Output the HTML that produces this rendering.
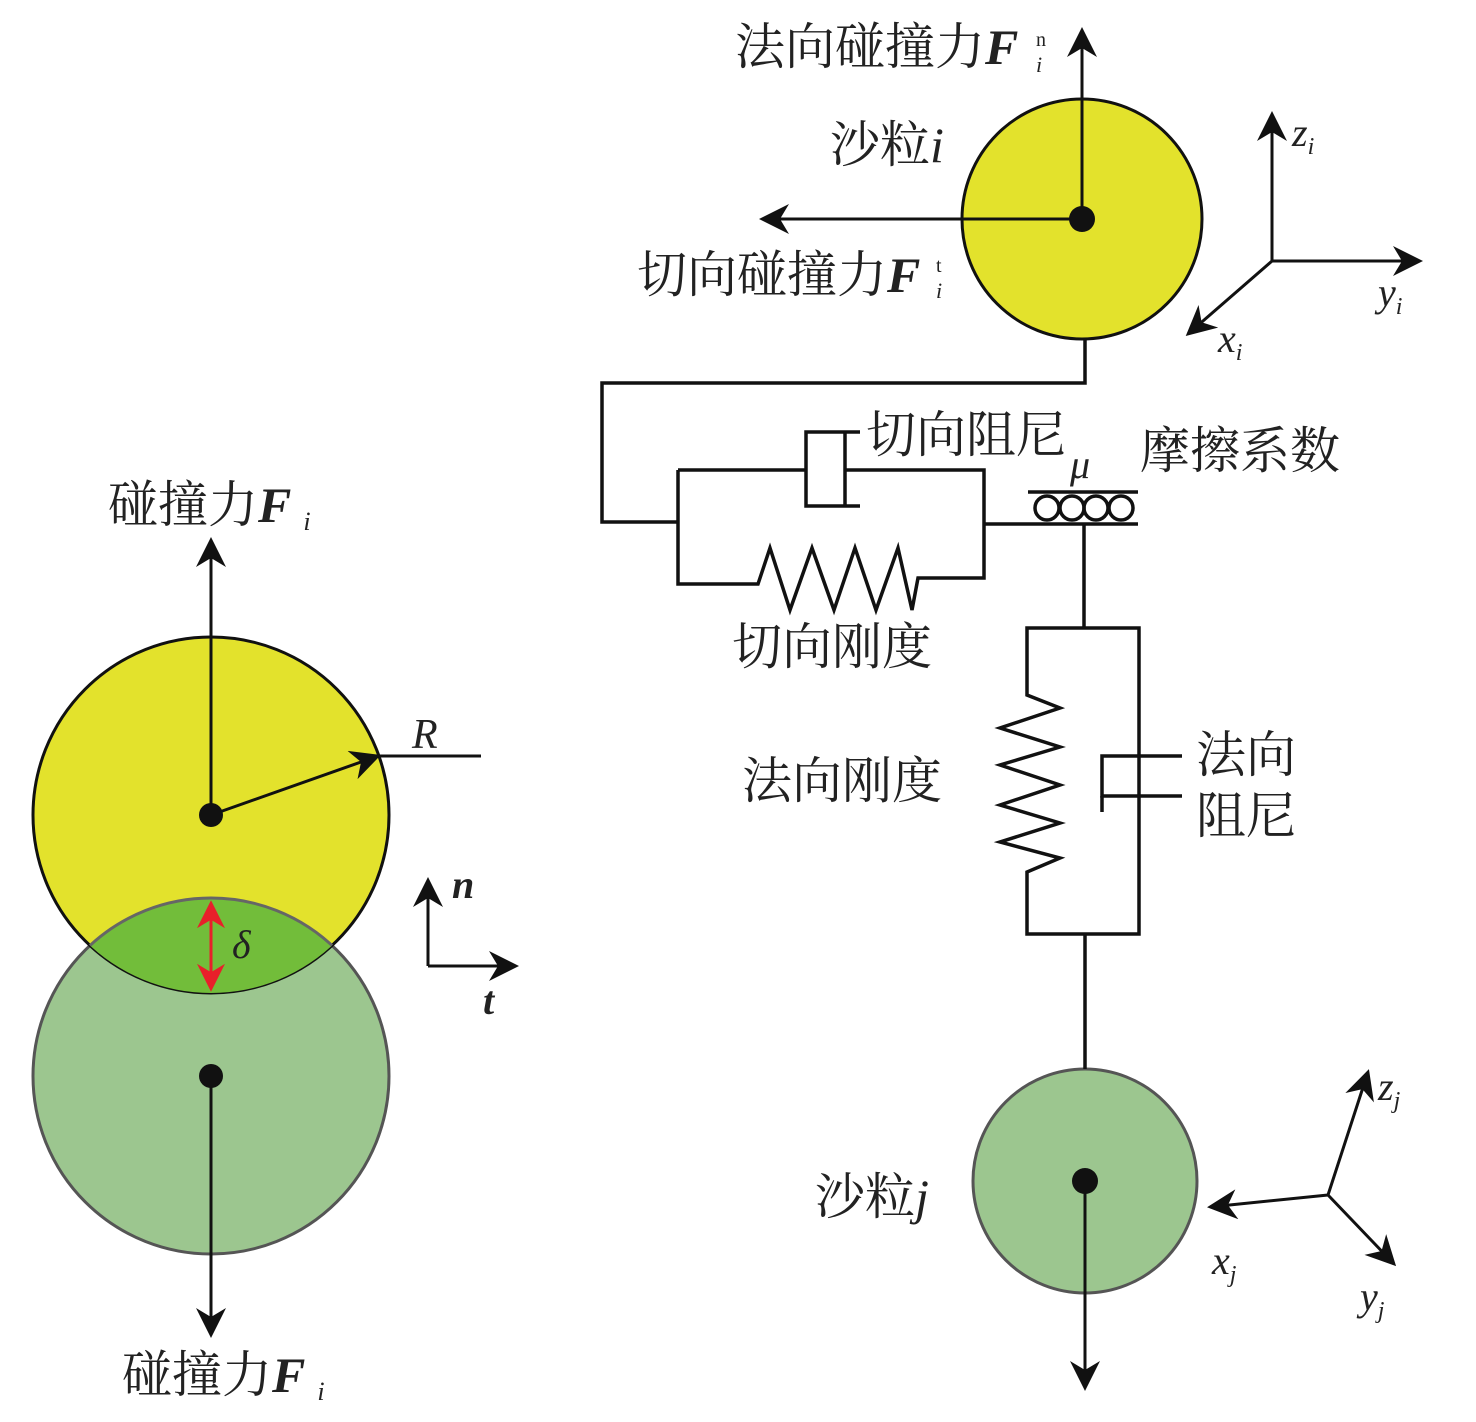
<!DOCTYPE html>
<html><head><meta charset="utf-8"><style>
html,body{margin:0;padding:0;background:#fff}
svg text{font-family:"Liberation Serif","Noto Serif CJK SC",serif;fill:#222}
.cn{font-size:50px}
.it{font-style:italic}
.b{font-weight:bold;font-style:italic}
</style></head><body>
<svg width="1476" height="1417" viewBox="0 0 1476 1417" xmlns="http://www.w3.org/2000/svg">
<defs>
<marker id="ab" viewBox="0 0 10 10" refX="9" refY="5" markerWidth="30" markerHeight="30" markerUnits="userSpaceOnUse" orient="auto"><path d="M0,0 L10,5 L0,10 L3,5z" fill="#111"/></marker>
<marker id="ar" viewBox="0 0 10 10" refX="9" refY="5" markerWidth="28" markerHeight="28" markerUnits="userSpaceOnUse" orient="auto-start-reverse"><path d="M0,0 L10,5 L0,10 L3,5z" fill="#e8202a"/></marker>
<clipPath id="cp"><circle cx="211" cy="815" r="178"/></clipPath>
</defs>
<g stroke="#111" stroke-width="3" fill="none">
<circle cx="211" cy="1076" r="178" fill="#9cc68f" stroke="#555"/>
<circle cx="211" cy="815" r="178" fill="#e3e22c" stroke="#111"/>
<circle cx="211" cy="1076" r="178" fill="#72bd3a" stroke="#666" clip-path="url(#cp)"/>
<line x1="211" y1="815" x2="211" y2="540" marker-end="url(#ab)"/>
<line x1="211" y1="1076" x2="211" y2="1335" marker-end="url(#ab)"/>
<line x1="211" y1="815" x2="378" y2="756" marker-end="url(#ab)"/>
<line x1="378" y1="756" x2="481" y2="756"/>
<line x1="211" y1="903" x2="211" y2="989" stroke="#e8202a" marker-end="url(#ar)" marker-start="url(#ar)"/>
<line x1="428" y1="966" x2="428" y2="880" marker-end="url(#ab)"/>
<line x1="428" y1="966" x2="516" y2="966" marker-end="url(#ab)"/>
</g>
<circle cx="211" cy="815" r="12" fill="#111"/>
<circle cx="211" cy="1076" r="12" fill="#111"/>
<g stroke="#111" stroke-width="3.5" fill="none">
<circle cx="1082" cy="219" r="120" fill="#e3e22c" stroke-width="3"/>
<circle cx="1085" cy="1181" r="112" fill="#9cc68f" stroke="#555" stroke-width="3"/>
<line x1="1082" y1="219" x2="1082" y2="30" marker-end="url(#ab)" stroke-width="3"/>
<line x1="1082" y1="219" x2="762" y2="219" marker-end="url(#ab)" stroke-width="3"/>
<line x1="1085" y1="1181" x2="1085" y2="1388" marker-end="url(#ab)" stroke-width="3"/>
<polyline points="1085,339 1085,383 602,383 602,522 678,522"/>
<polyline points="678,470 678,584 758,584 770,548 790,610 812,548 834,610 855,548 876,610 898,548 912,610 918,578 984,578 984,470 845,470"/>
<polyline points="678,470 806,470"/>
<polyline points="860,432 806,432 806,506 860,506"/>
<line x1="845" y1="432" x2="845" y2="506"/>
<line x1="984" y1="524" x2="1138" y2="524"/>
<line x1="1028" y1="492" x2="1138" y2="492"/>
<circle cx="1047" cy="508" r="12"/><circle cx="1072" cy="508" r="12"/><circle cx="1096" cy="508" r="12"/><circle cx="1121" cy="508" r="12"/>
<line x1="1084" y1="524" x2="1084" y2="628"/>
<polyline points="1084,628 1027,628 1027,695 1060,708 1000,728 1060,747 1000,765 1060,785 1000,805 1060,823 1000,842 1060,858 1027,872 1027,934 1084,934 1139,934 1139,628 1084,628"/>
<line x1="1085" y1="934" x2="1085" y2="1069"/>
<polyline points="1182,756 1102,756 1102,796 1182,796"/>
<line x1="1102" y1="796" x2="1102" y2="812"/>
</g>
<g stroke="#111" stroke-width="3" fill="none">
<line x1="1272" y1="261" x2="1272" y2="114" marker-end="url(#ab)"/>
<line x1="1272" y1="261" x2="1420" y2="261" marker-end="url(#ab)"/>
<line x1="1272" y1="261" x2="1188" y2="334" marker-end="url(#ab)"/>
<line x1="1328" y1="1195" x2="1368" y2="1072" marker-end="url(#ab)"/>
<line x1="1328" y1="1195" x2="1210" y2="1207" marker-end="url(#ab)"/>
<line x1="1328" y1="1195" x2="1394" y2="1264" marker-end="url(#ab)"/>
</g>
<circle cx="1082" cy="219" r="13" fill="#111"/>
<circle cx="1085" cy="1181" r="13" fill="#111"/>
<text x="108" y="522" class="cn">碰撞力<tspan class="b">F</tspan><tspan class="it" font-size="26" dx="12" dy="8">i</tspan></text>
<text x="122" y="1392" class="cn">碰撞力<tspan class="b">F</tspan><tspan class="it" font-size="26" dx="12" dy="8">i</tspan></text>
<text x="412" y="748" class="it" font-size="42">R</text>
<text x="232" y="958" class="it" font-size="40">δ</text>
<text x="452" y="898" class="b" font-size="40">n</text>
<text x="483" y="1014" class="b" font-size="40">t</text>
<text x="735" y="64" class="cn">法向碰撞力<tspan class="b">F</tspan></text>
<text x="1036" y="46" font-size="20">n</text><text x="1036" y="72" class="it" font-size="22">i</text>
<text x="830" y="162" class="cn">沙粒<tspan class="it">i</tspan></text>
<text x="637" y="292" class="cn">切向碰撞力<tspan class="b">F</tspan></text>
<text x="936" y="272" font-size="20">t</text><text x="936" y="298" class="it" font-size="22">i</text>
<text x="866" y="452" class="cn">切向阻尼</text>
<text x="1070" y="478" class="it" font-size="40">μ</text>
<text x="1140" y="468" class="cn">摩擦系数</text>
<text x="732" y="664" class="cn">切向刚度</text>
<text x="742" y="798" class="cn">法向刚度</text>
<text x="1196" y="772" class="cn">法向</text>
<text x="1196" y="833" class="cn">阻尼</text>
<text x="815" y="1214" class="cn">沙粒<tspan class="it">j</tspan></text>
<text x="1292" y="146" class="it" font-size="40">z<tspan font-size="24" dy="8">i</tspan></text>
<text x="1378" y="306" class="it" font-size="40">y<tspan font-size="24" dy="8">i</tspan></text>
<text x="1218" y="352" class="it" font-size="40">x<tspan font-size="24" dy="8">i</tspan></text>
<text x="1378" y="1100" class="it" font-size="40">z<tspan font-size="24" dy="8">j</tspan></text>
<text x="1212" y="1274" class="it" font-size="40">x<tspan font-size="24" dy="8">j</tspan></text>
<text x="1360" y="1310" class="it" font-size="40">y<tspan font-size="24" dy="8">j</tspan></text>
</svg>
</body></html>
